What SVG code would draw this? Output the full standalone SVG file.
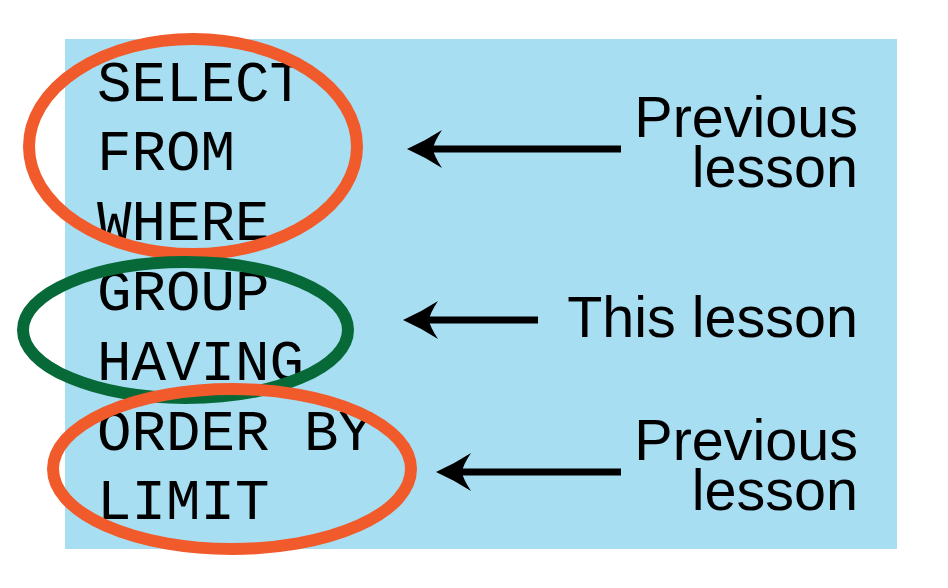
<svg xmlns="http://www.w3.org/2000/svg" xmlns:xlink="http://www.w3.org/1999/xlink" width="948" height="588" viewBox="0 0 948 588">
  <style>
    .code { font-family: "Courier New", "Liberation Mono", monospace; font-size: 57.5px; fill: #000; }
    .lbl { font-family: "Liberation Sans", Arial, sans-serif; font-size: 57.5px; fill: #000; text-anchor: end; }
    .ring { fill: none; stroke-width: 12; }
    .orange { stroke: #F15A2B; }
    .green { stroke: #066937; }
    .shaft { stroke: #000; stroke-width: 7; fill: none; }
  </style>
  <defs>
    <path id="ah" d="M0,0 Q18,-8 35,-19 Q27,-7 26,0 Q27,7 35,19 Q18,8 0,0 Z" fill="#000"/>
  </defs>
  <rect x="65" y="39" width="832" height="510" fill="#A8DEF2"/>
  <g id="code">
    <text class="code" x="97" y="101">SELECT</text>
    <text class="code" x="97" y="170">FROM</text>
    <text class="code" x="97" y="240">WHERE</text>
    <text class="code" x="97" y="310">GROUP</text>
    <text class="code" x="97" y="380">HAVING</text>
    <text class="code" x="97" y="450">ORDER BY</text>
    <text class="code" x="97" y="519">LIMIT</text>
  </g>
  <g id="ring-previous-1"><ellipse class="ring orange" cx="193" cy="146.5" rx="164" ry="107.5"/></g>
  <g id="ring-this"><ellipse class="ring green" cx="185.5" cy="330" rx="162.5" ry="68"/></g>
  <g id="ring-previous-2"><ellipse class="ring orange" cx="232" cy="469" rx="179" ry="80"/></g>
  <g id="connectors">
    <line class="shaft" x1="430" y1="149" x2="621" y2="149"/>
    <use xlink:href="#ah" x="407" y="149"/>
    <line class="shaft" x1="426" y1="320" x2="538" y2="320"/>
    <use xlink:href="#ah" x="403" y="320"/>
    <line class="shaft" x1="459" y1="472" x2="621" y2="472"/>
    <use xlink:href="#ah" x="436" y="472"/>
  </g>
  <g id="label-previous-1">
    <text class="lbl" x="858" y="137">Previous</text>
    <text class="lbl" x="858" y="187">lesson</text>
  </g>
  <g id="label-this">
    <text class="lbl" x="858" y="337">This lesson</text>
  </g>
  <g id="label-previous-2">
    <text class="lbl" x="858" y="460">Previous</text>
    <text class="lbl" x="858" y="510">lesson</text>
  </g>
</svg>
